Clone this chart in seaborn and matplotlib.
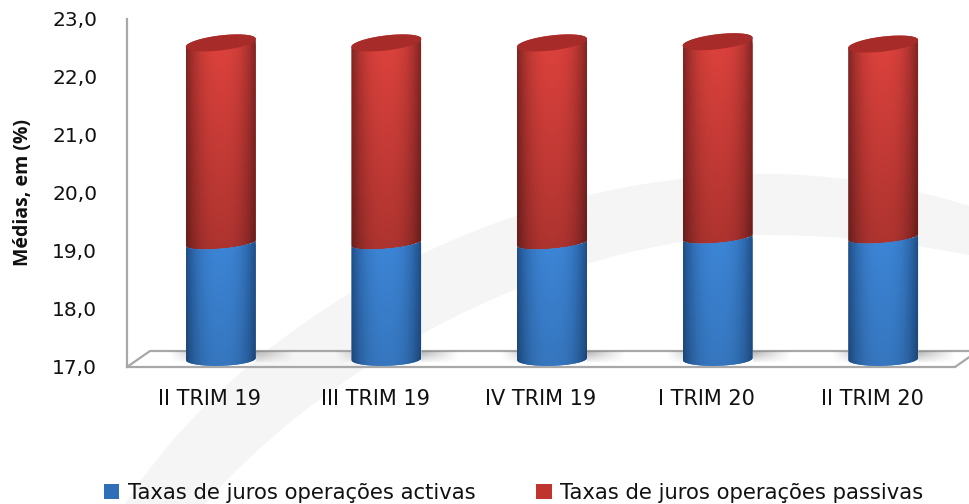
import matplotlib
matplotlib.use('Agg')
import matplotlib.pyplot as plt
import matplotlib.transforms as mtransforms
from matplotlib.patches import Patch, PathPatch, Polygon
from matplotlib.path import Path
import seaborn as sns
import numpy as np
import pandas as pd

categories = ['II TRIM 19', 'III TRIM 19', 'IV TRIM 19', 'I TRIM 20', 'II TRIM 20']
activas = [19.0, 19.0, 19.0, 19.1, 19.1]
passivas = [3.45, 3.45, 3.45, 3.37, 3.33]
y_ticks = [17, 18, 19, 20, 21, 22, 23]
y_labels = ['17,0', '18,0', '19,0', '20,0', '21,0', '22,0', '23,0']
legend_labels = ['Taxas de juros operações activas', 'Taxas de juros operações passivas']

sns.set_theme(style='white')
plt.rcParams['font.family'] = ['DejaVu Sans']

W, H = 969, 504
fig = plt.figure(figsize=(W / 100, H / 100), dpi=100)

# watermark swoosh behind everything, in pixel coords
bg = fig.add_axes([0, 0, 1, 1], zorder=0)
bg.set_xlim(0, W)
bg.set_ylim(H, 0)
bg.axis('off')
verts = [(125, 504), (230, 340), (480, 170), (780, 174), (850, 176), (920, 190), (969, 206),
         (969, 255), (880, 238), (820, 235), (755, 235), (560, 240), (330, 360), (205, 504), (125, 504)]
codes = [Path.MOVETO] + [Path.CURVE4] * 6 + [Path.LINETO] + [Path.CURVE4] * 6 + [Path.CLOSEPOLY]
bg.add_patch(PathPatch(Path(verts, codes), fc='#f5f5f5', ec='none'))

ax = fig.add_axes([127 / W, 1 - 367 / H, 828 / W, 348 / H], zorder=1)
ax.patch.set_alpha(0)

df = pd.DataFrame({'trim': categories, 'activas': activas, 'passivas': passivas})
df['total'] = df['activas'] + df['passivas']

sns.barplot(data=df, x='trim', y='total', color='#c0342e', width=70 / 165.6, saturation=1, ax=ax)
sns.barplot(data=df, x='trim', y='activas', color='#2f6fb8', width=70 / 165.6, saturation=1, ax=ax)

ax.set_xlim(-0.5, 4.5)
ax.set_ylim(17, 23)
ax.set_yticks(y_ticks)
ax.set_yticklabels(y_labels, fontsize=14.5, color='#111111')
ax.tick_params(axis='y', length=0, pad=21.5)
ax.tick_params(axis='x', length=0, pad=15.5, labelsize=15, labelcolor='#111111')
ax.set_xlabel('')
ax.set_ylabel('Médias, em (%)', fontsize=14, fontweight='bold', color='#111111', family='Open Sans')
ax.yaxis.set_label_coords(-94 / 828, 0.5)
sns.despine(ax=ax)
for side in ['left', 'bottom']:
    ax.spines[side].set_color('#a8a8a8')
    ax.spines[side].set_linewidth(1.6)

px_x = 5 / 828
px_y = 6 / 348
depth_x, depth_y = 23 * px_x, 16 * px_y

# 3d floor
floor_x = [-0.5, -0.5 + depth_x, 4.5 + depth_x, 4.5]
floor_y = [17, 17 + depth_y, 17 + depth_y, 17]
ax.plot(floor_x, floor_y, color='#a8a8a8', lw=1.6, clip_on=False, zorder=1.5)

# bars sit half way into the floor
bar_shift = ax.transData + mtransforms.Affine2D().translate(11, 8)


def half_ellipse(cx, w, yc, ry, tilt, reverse=False):
    t = np.linspace(np.pi, 2 * np.pi, 40)
    xs = cx + w / 2 * np.cos(t)
    ys = yc + ry * np.sin(t) + tilt * np.cos(t)
    pts = np.column_stack([xs, ys])
    return pts[::-1] if reverse else pts


def shade(c_edge, c_mid, top_f, bottom_f):
    prof = np.abs(np.linspace(-1, 1, 80)) ** 2.6
    rows = np.linspace(top_f, bottom_f, 60)
    c_edge = np.array(matplotlib.colors.to_rgb(c_edge))
    c_mid = np.array(matplotlib.colors.to_rgb(c_mid))
    line = c_mid + (c_edge - c_mid) * prof[:, None]
    return np.clip(line[None, :, :] * rows[:, None, None], 0, 1)


ry = 7.5 * px_y
n = len(categories)
red_bars = ax.patches[:n]
blue_bars = ax.patches[n:]

for red, blue, act, tot in zip(red_bars, blue_bars, df['activas'], df['total']):
    x0, w = blue.get_x(), blue.get_width()
    cx = x0 + w / 2
    shadow_x = x0 + 11 * px_x

    # floor shadow either side of the bar
    sh = np.zeros((10, 40, 4))
    sh[..., :3] = 0.5
    sh[..., 3] = (np.linspace(0.6, 0, 40)[None, :] * np.linspace(1, 0.2, 10)[:, None])
    ax.imshow(sh, extent=[shadow_x + w, shadow_x + w + 38 * px_x, 17 + 5 * px_y, 17 + 16 * px_y], aspect='auto',
              zorder=1.6, interpolation='bilinear')
    ax.imshow(sh[:, ::-1] * [1, 1, 1, 0.5], extent=[shadow_x - 16 * px_x, shadow_x, 17 + 5 * px_y, 17 + 16 * px_y],
              aspect='auto', zorder=1.6, interpolation='bilinear')

    blue_poly = np.vstack([half_ellipse(cx, w, 17, ry * 0.9, 1 * px_y),
                           half_ellipse(cx, w, act, ry * 0.75, 3 * px_y, reverse=True)])
    red_poly = np.vstack([half_ellipse(cx, w, act, ry * 0.75, 3 * px_y),
                          half_ellipse(cx, w, tot, -ry, 4 * px_y, reverse=True)])
    top_poly = np.vstack([half_ellipse(cx, w, tot, ry, 4 * px_y),
                          half_ellipse(cx, w, tot, -ry, 4 * px_y, reverse=True)])

    segments = [
        (blue, blue_poly, 17 - 10 * px_y, act + 10 * px_y, shade('#1f4f88', '#3d86d8', 1.0, 0.88), 3),
        (red, red_poly, act - 10 * px_y, tot + 10 * px_y, shade('#832523', '#de423d', 1.0, 0.78), 2.5),
    ]
    for bar, poly, lo, hi, img, z in segments:
        bar.set_zorder(z - 0.1)
        bar.set_transform(bar_shift)
        bar.set_clip_path(Path(poly), bar_shift)
        im = ax.imshow(img, extent=[x0, x0 + w, lo, hi], aspect='auto', origin='upper',
                       transform=bar_shift, zorder=z, interpolation='bilinear')
        im.set_clip_path(Path(poly), bar_shift)

    ax.add_patch(Polygon(top_poly, closed=True, fc='#a62b29', ec='none', transform=bar_shift,
                         zorder=3.5, clip_on=False))

ax.set_xlim(-0.5, 4.5)
ax.set_ylim(17, 23)

handles = [Patch(fc='#2f6fb8', ec='none'), Patch(fc='#c0342e', ec='none')]
fig.legend(handles, legend_labels, loc='center left', bbox_to_anchor=(104 / W, 1 - 493 / H), ncol=2,
           frameon=False, fontsize=15.2, handlelength=0.72, handleheight=0.72, handletextpad=0.4,
           columnspacing=2.9, labelcolor='#111111', borderpad=0, borderaxespad=0)

fig.savefig('out.png', dpi=100)
